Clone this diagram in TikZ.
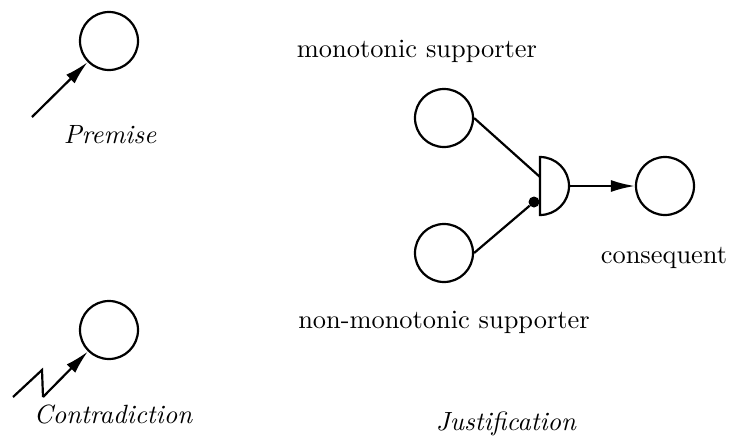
\documentclass[tikz,border=0pt]{standalone}
\usetikzlibrary{arrows.meta}
\begin{document}
\begin{tikzpicture}[x=1pt,y=-1pt,
  nd/.style={circle,draw,line width=2.2pt,minimum size=58pt,inner sep=0pt},
  lab/.style={anchor=base,inner sep=0pt,scale=2.64,transform shape},
  conn/.style={line width=2.2pt},
  arr/.style={line width=2.2pt,-{Latex[length=24pt,width=12pt]}}]
\useasboundingbox (0,0) rectangle (731,437);
% Premise
\node[nd] (p) at (109,41) {};
\coordinate (ps) at (32,117);
\draw[arr] (ps) -- (p);
\node[lab] (pl) at (110,143) {\itshape Premise};
% Contradiction
\node[nd] (c) at (109,330) {};
\coordinate (z1) at (13,397);
\coordinate (z2) at (42,370);
\coordinate (z3) at (43,397);
\draw[conn] (z1) -- (z2) -- (z3);
\draw[arr] (z3) -- (c);
\node[lab] (cl) at (113,423) {\itshape Contradiction};
% Justification
\node[nd] (t) at (444,118) {};
\node[nd] (b) at (444,253) {};
\node[nd] (q) at (665,186) {};
\coordinate (g) at (540,186);
\draw[line width=2.2pt,fill=white] (540,157) arc[start angle=90,end angle=-90,radius=29pt] -- cycle;
\coordinate (gt) at (540,177);
\coordinate (ge) at (569,186);
\draw[conn] (t.east) -- (gt);
\node[circle,fill,inner sep=0pt,minimum size=11pt] (dot) at (534,202) {};
\draw[conn] (b.east) -- (dot);
\draw[arr] (ge) -- (q);
\node[lab] (ml) at (417,57) {monotonic supporter};
\node[lab] (nl) at (444,328) {non-monotonic supporter};
\node[lab] (ql) at (664,263) {consequent};
\node[lab] (jl) at (506,430) {\itshape Justification};
\end{tikzpicture}
\end{document}
